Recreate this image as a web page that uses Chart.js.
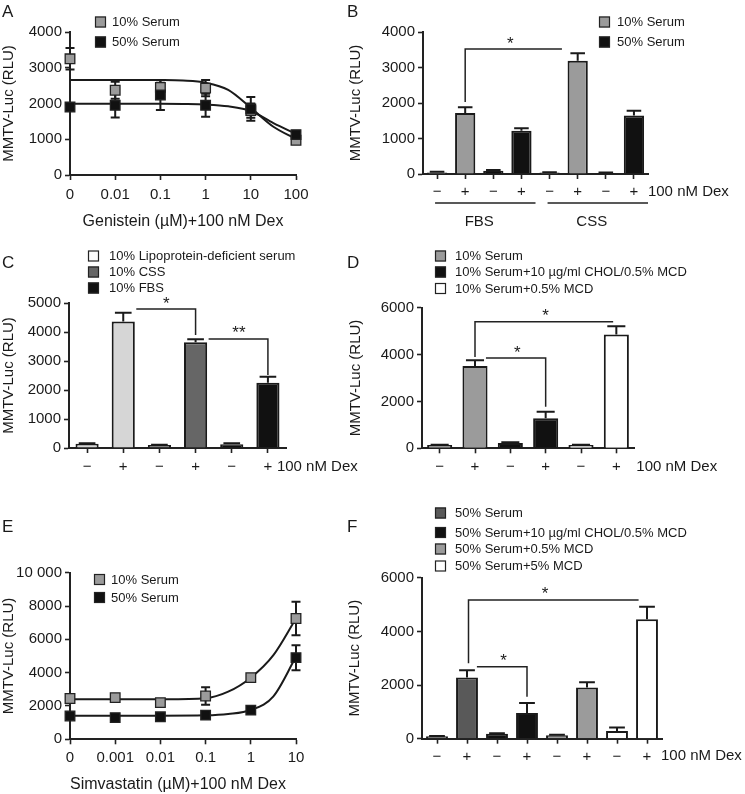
<!DOCTYPE html>
<html><head><meta charset="utf-8">
<script src="https://cdn.jsdelivr.net/npm/chart.js@4.4.0/dist/chart.umd.min.js"></script>
<style>
html,body{margin:0;padding:0;background:#fff;}
body{width:745px;height:794px;position:relative;overflow:hidden;}
canvas{position:absolute;left:0;top:0;}
</style></head><body>
<canvas id="cA"></canvas><canvas id="cB"></canvas><canvas id="cC"></canvas>
<canvas id="cD"></canvas><canvas id="cE"></canvas><canvas id="cF"></canvas>
<script>
// ---------- DATA ----------
// Panel A (Genistein)
const genisteinLabels = ['0', '0.01', '0.1', '1', '10', '100'];
const aSerum10 = [3250, 2370, 2450, 2430, 1800, 970];
const aSerum10Err = [300, 240, 200, 230, 200, 60];
const aSerum50 = [1900, 1950, 2240, 1950, 1850, 1130];
const aSerum50Err = [60, 340, 420, 320, 330, 80];
const aFitX = [0, 1, 2, 2.5, 3, 3.5, 4, 4.5, 5];
const aFit10 = [2660, 2660, 2655, 2640, 2580, 2380, 1880, 1350, 1010];
const aFit50 = [1990, 1990, 1990, 1985, 1970, 1920, 1790, 1450, 1150];

// Panel B
const dexLabels8 = ['\u2212', '+', '\u2212', '+', '\u2212', '+', '\u2212', '+'];
const bValues = [45, 1720, 95, 1220, 40, 3190, 30, 1650];
const bErr = [15, 160, 15, 70, 10, 210, 10, 130];
const bSeriesIdx = [0, 0, 1, 1, 0, 0, 1, 1];
const bSeriesNames = ['10% Serum', '50% Serum'];
const bGroups = [{ label: 'FBS', from: 0, to: 3 }, { label: 'CSS', from: 4, to: 7 }];
const bSig = [{ x1: 1, x2: 4.44, y: 3520, y1: 2030, y2: null, label: '*', lx: 2.6 }];

// Panel C
const dexLabels6 = ['\u2212', '+', '\u2212', '+', '\u2212', '+'];
const cValues = [150, 4360, 100, 3650, 130, 2250];
const cErr = [15, 300, 10, 100, 30, 210];
const cSeriesIdx = [0, 0, 1, 1, 2, 2];
const cSeriesNames = ['10% Lipoprotein-deficient serum', '10% CSS', '10% FBS'];
const cSig = [
  { x1: 1.36, x2: 3, y: 4790, y1: null, y2: 3900, label: '*', lx: 2.19 },
  { x1: 3.36, x2: 5, y: 3760, y1: null, y2: 2520, label: '**', lx: 4.2 }
];

// Panel D
const dValues = [140, 3510, 230, 1280, 140, 4860];
const dErr = [15, 250, 30, 280, 15, 350];
const dSeriesIdx = [0, 0, 1, 1, 2, 2];
const dSeriesNames = ['10% Serum', '10% Serum+10 \u00b5g/ml CHOL/0.5% MCD', '10% Serum+0.5% MCD'];
const dSig = [
  { x1: 1, x2: 4.91, y: 5400, y1: 3900, y2: null, label: '*', lx: 3 },
  { x1: 1.31, x2: 3, y: 3850, y1: null, y2: 1775, label: '*', lx: 2.2 }
];

// Panel E (Simvastatin)
const simvaLabels = ['0', '0.001', '0.01', '0.1', '1', '10'];
const eTickLabels = ['0', '2000', '4000', '6000', '8000', '10 000'];
const eSerum10 = [2450, 2500, 2200, 2600, 3700, 7250];
const eSerum10Err = [100, 100, 100, 520, 80, 1000];
const eSerum50 = [1400, 1300, 1350, 1450, 1750, 4900];
const eSerum50Err = [80, 80, 80, 100, 80, 750];
const eFitX = [0, 1, 2, 3, 3.5, 4, 4.5, 5];
const eFit10 = [2400, 2400, 2410, 2470, 2860, 3700, 5050, 7250];
const eFit50 = [1420, 1420, 1420, 1440, 1520, 1760, 2580, 4950];

// Panel F
const fValues = [90, 2280, 180, 960, 130, 1910, 290, 4450];
const fErr = [10, 270, 20, 370, 15, 190, 130, 470];
const fSeriesIdx = [0, 0, 1, 1, 2, 2, 3, 3];
const fSeriesNames = ['50% Serum', '50% Serum+10 \u00b5g/ml CHOL/0.5% MCD', '50% Serum+0.5% MCD', '50% Serum+5% MCD'];
const fSig = [
  { x1: 1.05, x2: 6.72, y: 5170, y1: 2810, y2: null, label: '*', lx: 3.6 },
  { x1: 1.33, x2: 3, y: 2680, y1: null, y2: 1560, label: '*', lx: 2.22 }
];

// ---------- STYLE ----------
const FONT = '"Liberation Sans", Arial, Helvetica, sans-serif';
const INK = '#1a1a1a';
const GRAY = '#9b9b9b';
const BLACK = '#111111';

// ---------- PLUGINS ----------
function drawErr(chart, before) {
  const ctx = chart.ctx, ys = chart.scales.y;
  chart.data.datasets.forEach((ds, di) => {
    if (!ds.errorValues) return;
    if (!!ds.errorBoth !== before) return;
    const meta = chart.getDatasetMeta(di);
    meta.data.forEach((el, i) => {
      const e = ds.errorValues[i];
      if (!e) return;
      const raw = ds.data[i];
      const v = typeof raw === 'object' ? raw.y : raw;
      const x = el.x;
      const yTop = ys.getPixelForValue(v + e);
      const yBase = ds.errorBoth ? ys.getPixelForValue(v - e) : el.y;
      const cap = ds.errorBoth ? 4.5 : el.width * 0.36;
      ctx.save();
      ctx.strokeStyle = INK; ctx.lineWidth = 2;
      ctx.beginPath();
      ctx.moveTo(x, yBase); ctx.lineTo(x, yTop);
      ctx.moveTo(x - cap, yTop); ctx.lineTo(x + cap, yTop);
      if (ds.errorBoth) { ctx.moveTo(x - cap, yBase); ctx.lineTo(x + cap, yBase); }
      ctx.stroke();
      ctx.restore();
    });
  });
}
const errPlugin = {
  id: 'errbars',
  beforeDatasetsDraw(chart) { drawErr(chart, true); },
  afterDatasetsDraw(chart) { drawErr(chart, false); }
};

const decoPlugin = {
  id: 'deco',
  afterDraw(chart, args, o) {
    const ctx = chart.ctx, ca = chart.chartArea;
    const xs = chart.scales.x, ys = chart.scales.y;
    ctx.save();
    ctx.fillStyle = INK; ctx.strokeStyle = INK;
    // panel letter
    ctx.font = '17px ' + FONT; ctx.textAlign = 'left'; ctx.textBaseline = 'alphabetic';
    ctx.fillText(o.letter, o.letterX, o.letterY);
    // y title
    ctx.save();
    ctx.font = '15px ' + FONT; ctx.textAlign = 'center'; ctx.textBaseline = 'middle';
    ctx.translate(o.yTitleX, (ca.top + ca.bottom) / 2);
    ctx.rotate(-Math.PI / 2);
    ctx.fillText('MMTV-Luc (RLU)', 0, 0);
    ctx.restore();
    // x title
    if (o.xTitle) {
      ctx.font = '16px ' + FONT; ctx.textAlign = 'center'; ctx.textBaseline = 'middle';
      ctx.fillText(o.xTitle, o.xTitleX, o.xTitleY);
    }
    // legend
    if (o.legend) {
      const L = o.legend;
      ctx.font = '13px ' + FONT; ctx.textAlign = 'left'; ctx.textBaseline = 'middle';
      L.names.forEach((n, i) => {
        const cy = L.ys[i];
        ctx.fillStyle = L.colors[i];
        ctx.fillRect(L.x, cy - 5.5, 11, 11);
        ctx.lineWidth = 1.2; ctx.strokeStyle = '#222';
        ctx.strokeRect(L.x + 0.5, cy - 5, 10, 10);
        ctx.fillStyle = INK;
        ctx.fillText(n, L.tx, cy + 0.5);
      });
    }
    // dex label
    if (o.dex) {
      const n = chart.data.labels.length;
      const lx = xs.getPixelForValue(n - 1) + o.dex.dx;
      ctx.font = '15px ' + FONT; ctx.textAlign = 'left'; ctx.textBaseline = 'middle';
      ctx.fillStyle = INK;
      ctx.fillText('100 nM Dex', lx, o.dex.y);
    }
    // significance brackets
    if (o.sig) {
      ctx.lineWidth = 1.5; ctx.strokeStyle = '#222';
      o.sig.forEach(s => {
        const x1 = xs.getPixelForValue(s.x1), x2 = xs.getPixelForValue(s.x2);
        const y = ys.getPixelForValue(s.y);
        ctx.beginPath();
        ctx.moveTo(x1, y); ctx.lineTo(x2, y);
        if (s.y1 != null) { ctx.moveTo(x1, y - 0.75); ctx.lineTo(x1, ys.getPixelForValue(s.y1)); }
        if (s.y2 != null) { ctx.moveTo(x2, y - 0.75); ctx.lineTo(x2, ys.getPixelForValue(s.y2)); }
        ctx.stroke();
        ctx.font = '17px ' + FONT; ctx.textAlign = 'center'; ctx.textBaseline = 'alphabetic';
        ctx.fillStyle = INK;
        ctx.fillText(s.label, xs.getPixelForValue(s.lx), y - 0.5);
      });
    }
    // groups
    if (o.groups) {
      const sp = xs.getPixelForValue(1) - xs.getPixelForValue(0);
      o.groups.forEach(g => {
        const a = xs.getPixelForValue(g.from) - 2, b = xs.getPixelForValue(g.to) + sp * 0.5;
        ctx.lineWidth = 1.5; ctx.strokeStyle = '#222';
        ctx.beginPath(); ctx.moveTo(a, o.groupLineY); ctx.lineTo(b, o.groupLineY); ctx.stroke();
        ctx.font = '15px ' + FONT; ctx.textAlign = 'center'; ctx.textBaseline = 'middle';
        ctx.fillStyle = INK;
        ctx.fillText(g.label, (xs.getPixelForValue(g.from) + xs.getPixelForValue(g.to)) / 2, o.groupLabelY);
      });
    }
    ctx.restore();
  }
};

// ---------- HELPERS ----------
function axisY(min, max, step, labels) {
  return {
    min: min, max: max,
    afterFit: s => { s.width = 60; },
    border: { display: true, color: '#222', width: 2 },
    grid: { display: true, drawOnChartArea: false, drawTicks: true, tickLength: 5, tickColor: '#222', tickWidth: 1.6 },
    ticks: {
      stepSize: step, padding: 3, color: INK, font: { family: FONT, size: 15 },
      callback: labels ? ((v) => labels[Math.round((v - min) / step)]) : ((v) => String(v))
    }
  };
}
function axisXCat(pad) {
  return {
    type: 'category', offset: true,
    afterFit: s => { s.height = 40; },
    border: { display: true, color: '#222', width: 2 },
    grid: { display: true, offset: false, drawOnChartArea: false, drawTicks: true, tickLength: 5, tickColor: '#222', tickWidth: 1.6 },
    ticks: { padding: pad, color: INK, font: { family: FONT, size: 15 }, maxRotation: 0, autoSkip: false }
  };
}
function axisXLin(labels, pad) {
  return {
    type: 'linear', min: 0, max: 5,
    afterFit: s => { s.height = 40; },
    border: { display: true, color: '#222', width: 2 },
    grid: { display: true, drawOnChartArea: false, drawTicks: true, tickLength: 5, tickColor: '#222', tickWidth: 1.6 },
    ticks: { stepSize: 1, padding: pad, color: INK, font: { family: FONT, size: 15 }, maxRotation: 0, autoSkip: false,
      callback: (v) => labels[v] }
  };
}
function makeChart(id, cfg, area) {
  const cv = document.getElementById(id);
  cv.width = 745; cv.height = 794;
  cv.style.width = '745px'; cv.style.height = '794px';
  const pad = { left: area.l - 60, right: 745 - area.r, top: area.t, bottom: 794 - area.b - 40 };
  cfg.options.layout = { padding: pad };
  cfg.options.responsive = false;
  cfg.options.animation = false;
  cfg.options.devicePixelRatio = 1;
  cfg.options.events = [];
  cfg.options.plugins = Object.assign({ legend: { display: false }, tooltip: { enabled: false } }, cfg.options.plugins);
  cfg.plugins = [errPlugin, decoPlugin];
  const ch = new Chart(cv, cfg);
  for (let k = 0; k < 4; k++) {
    const ca = ch.chartArea;
    const dl = area.l - ca.left, dr = ca.right - area.r, dt = area.t - ca.top, db = ca.bottom - area.b;
    if (Math.abs(dl) + Math.abs(dr) + Math.abs(dt) + Math.abs(db) < 0.2) break;
    const p = ch.config.options.layout.padding;
    ch.config.options.layout.padding = { left: p.left + dl, right: p.right + dr, top: p.top + dt, bottom: p.bottom + db };
    ch.update('none');
  }
  return ch;
}
function barDataset(values, errs, idx, colors, pct) {
  return {
    data: values, errorValues: errs,
    backgroundColor: idx.map(i => colors[i]),
    borderColor: '#1a1a1a', borderWidth: 2,
    categoryPercentage: 1, barPercentage: pct
  };
}
function pts(vals) { return vals.map((v, i) => ({ x: i, y: v })); }
function fit(xs, vals) { return xs.map((x, i) => ({ x: x, y: vals[i] })); }
function lineDatasets(s10, e10, s50, e50, fx, f10, f50) {
  const fitStyle = { showLine: true, pointRadius: 0, borderColor: INK, borderWidth: 2, cubicInterpolationMode: 'monotone', clip: false, fill: false };
  return [
    { data: pts(s50), errorValues: e50, errorBoth: true, showLine: false, pointStyle: 'rect', pointRadius: 6.8,
      backgroundColor: BLACK, borderColor: '#222', borderWidth: 1.3, clip: false },
    { data: pts(s10), errorValues: e10, errorBoth: true, showLine: false, pointStyle: 'rect', pointRadius: 6.8,
      backgroundColor: GRAY, borderColor: '#222', borderWidth: 1.3, clip: false },
    Object.assign({ data: fit(fx, f10) }, fitStyle),
    Object.assign({ data: fit(fx, f50) }, fitStyle)
  ];
}

// ---------- PANEL A ----------
makeChart('cA', {
  type: 'scatter',
  data: { datasets: lineDatasets(aSerum10, aSerum10Err, aSerum50, aSerum50Err, aFitX, aFit10, aFit50) },
  options: {
    scales: { x: axisXLin(genisteinLabels, 6), y: axisY(0, 4000, 1000) },
    plugins: { deco: { letter: 'A', letterX: 2, letterY: 17, yTitleX: 9,
      xTitle: 'Genistein (\u00b5M)+100 nM Dex', xTitleX: 183, xTitleY: 222,
      legend: { x: 95, tx: 112, ys: [22, 42], names: ['10% Serum', '50% Serum'], colors: [GRAY, BLACK] } } }
  }
}, { l: 70, t: 32, r: 296, b: 175 });

// ---------- PANEL B ----------
makeChart('cB', {
  type: 'bar',
  data: { labels: dexLabels8, datasets: [barDataset(bValues, bErr, bSeriesIdx, [GRAY, BLACK], 0.72)] },
  options: {
    scales: { x: axisXCat(4), y: axisY(0, 4000, 1000) },
    plugins: { deco: { letter: 'B', letterX: 347, letterY: 17, yTitleX: 356,
      legend: { x: 599, tx: 617, ys: [22, 42], names: bSeriesNames, colors: [GRAY, BLACK] },
      dex: { dx: 14, y: 192 }, sig: bSig, groups: bGroups, groupLineY: 203, groupLabelY: 222 } }
  }
}, { l: 423, t: 32, r: 648, b: 174 });

// ---------- PANEL C ----------
makeChart('cC', {
  type: 'bar',
  data: { labels: dexLabels6, datasets: [barDataset(cValues, cErr, cSeriesIdx, ['#d6d6d6', '#666666', BLACK], 0.64)] },
  options: {
    scales: { x: axisXCat(5), y: axisY(0, 5000, 1000) },
    plugins: { deco: { letter: 'C', letterX: 2, letterY: 268, yTitleX: 9,
      legend: { x: 88, tx: 109, ys: [256, 272, 288], names: cSeriesNames, colors: ['#fbfbfb', '#666666', BLACK] },
      dex: { dx: 9, y: 467 }, sig: cSig } }
  }
}, { l: 69, t: 303, r: 286, b: 448 });

// ---------- PANEL D ----------
makeChart('cD', {
  type: 'bar',
  data: { labels: dexLabels6, datasets: [barDataset(dValues, dErr, dSeriesIdx, [GRAY, BLACK, '#ffffff'], 0.71)] },
  options: {
    scales: { x: axisXCat(5), y: axisY(0, 6000, 2000) },
    plugins: { deco: { letter: 'D', letterX: 347, letterY: 268, yTitleX: 356,
      legend: { x: 435, tx: 455, ys: [256, 272, 288.5], names: dSeriesNames, colors: [GRAY, BLACK, '#ffffff'] },
      dex: { dx: 20, y: 467 }, sig: dSig } }
  }
}, { l: 422, t: 307.7, r: 634, b: 448.3 });

// ---------- PANEL E ----------
makeChart('cE', {
  type: 'scatter',
  data: { datasets: lineDatasets(eSerum10, eSerum10Err, eSerum50, eSerum50Err, eFitX, eFit10, eFit50) },
  options: {
    scales: { x: axisXLin(simvaLabels, 5), y: axisY(0, 10000, 2000, eTickLabels) },
    plugins: { deco: { letter: 'E', letterX: 2, letterY: 532, yTitleX: 9,
      xTitle: 'Simvastatin (\u00b5M)+100 nM Dex', xTitleX: 178, xTitleY: 785,
      legend: { x: 94, tx: 111, ys: [579.5, 597.5], names: ['10% Serum', '50% Serum'], colors: [GRAY, BLACK] } } }
  }
}, { l: 70, t: 572.7, r: 296, b: 739.3 });

// ---------- PANEL F ----------
makeChart('cF', {
  type: 'bar',
  data: { labels: dexLabels8, datasets: [barDataset(fValues, fErr, fSeriesIdx, ['#595959', BLACK, GRAY, '#ffffff'], 0.73)] },
  options: {
    scales: { x: axisXCat(4), y: axisY(0, 6000, 2000) },
    plugins: { deco: { letter: 'F', letterX: 347, letterY: 532, yTitleX: 355,
      legend: { x: 435, tx: 455, ys: [513, 532.5, 549, 566], names: fSeriesNames, colors: ['#595959', BLACK, GRAY, '#ffffff'] },
      dex: { dx: 14, y: 756 }, sig: fSig } }
  }
}, { l: 422, t: 577.7, r: 662, b: 738.7 });
</script>
</body></html>
